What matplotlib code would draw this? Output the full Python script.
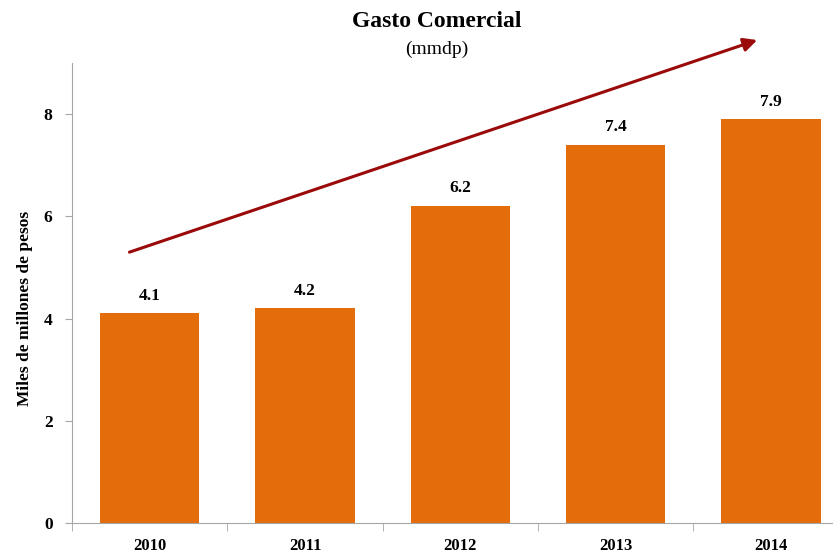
import numpy as np
import matplotlib
matplotlib.use("Agg")
from matplotlib import pyplot as plt

years = ["2010", "2011", "2012", "2013", "2014"]
values = [4.1, 4.2, 6.2, 7.4, 7.9]
y_ticks = [0, 2, 4, 6, 8]
# trend arrow endpoints, in data units (category index, value)
arrow_start = (-0.13, 5.3)
arrow_end = (3.91, 9.45)

bar_color = "#E46C0A"
axis_color = "#A6A6A6"
plt.rcParams["font.family"] = ["Liberation Serif", "DejaVu Serif"]

fig = plt.figure(figsize=(8.33, 5.58), dpi=100)
ax = fig.add_axes([0.0864, 0.0627, 0.9326, 0.8243])

x = np.arange(len(years))
bars = ax.bar(x, values, width=0.64, color=bar_color, zorder=2)

for xi, v in zip(x, values):
    ax.annotate(f"{v:.1f}", (xi, v), xytext=(0, 7), textcoords="offset points",
                ha="center", va="bottom", fontsize=12.5, fontweight="bold")

ax.set_xlim(-0.5, len(years) - 0.5)
ax.set_ylim(0, 9)
ax.set_yticks(y_ticks)
ax.set_yticklabels([str(t) for t in y_ticks], fontsize=12.5, fontweight="bold")
ax.set_xticks(x)
ax.set_xticklabels(years, fontsize=12, fontweight="bold")
ax.set_xticks(np.arange(len(years) + 1) - 0.5, minor=True)
ax.tick_params(axis="x", which="major", length=0, pad=11)
ax.tick_params(axis="x", which="minor", length=6, color=axis_color)
ax.tick_params(axis="y", length=5, color=axis_color, pad=9)

for side in ["top", "right"]:
    ax.spines[side].set_visible(False)
for side in ["left", "bottom"]:
    ax.spines[side].set_color(axis_color)

ax.set_ylabel("Miles de millones de pesos", fontsize=12.5, fontweight="bold")
ax.yaxis.set_label_coords(-0.05, 0.467)

ax.annotate("", xy=arrow_end, xytext=arrow_start, annotation_clip=False,
            arrowprops=dict(arrowstyle="-|>", color="#9B0A0A", lw=2.2,
                            mutation_scale=20, shrinkA=0, shrinkB=0))

fig.text(0.524, 0.962, "Gasto Comercial", ha="center", va="center",
         fontsize=17, fontweight="bold")
fig.text(0.524, 0.912, "(mmdp)", ha="center", va="center", fontsize=14)

fig.savefig("out.png", dpi=100)
